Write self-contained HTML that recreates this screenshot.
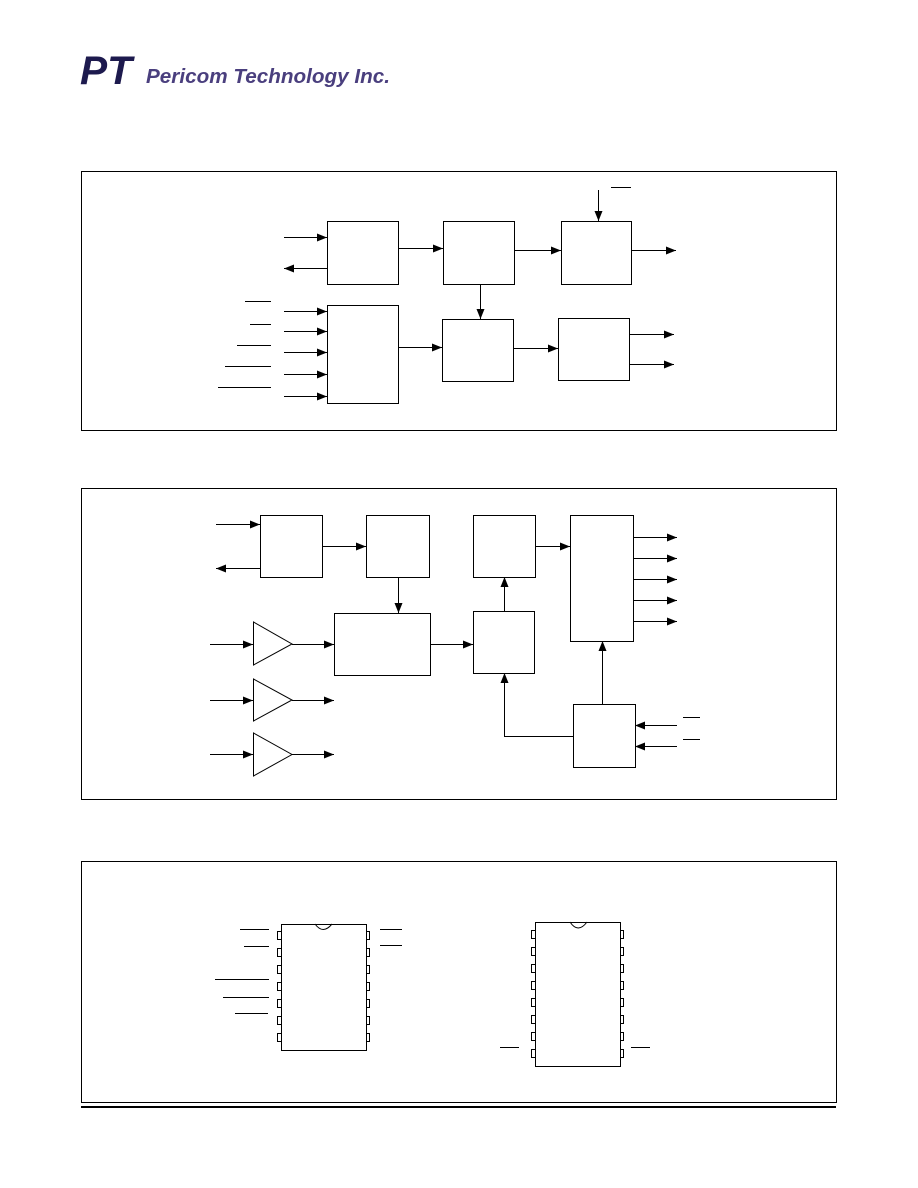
<!DOCTYPE html>
<html><head><style>
body{margin:0;background:#fff;}
svg{display:block}
</style></head><body>
<svg width="918" height="1188" viewBox="0 0 918 1188" xmlns="http://www.w3.org/2000/svg">
<defs><marker id="a" markerWidth="10" markerHeight="8" refX="10" refY="4" orient="auto" markerUnits="userSpaceOnUse"><path d="M0,0 L10,4 L0,8 z" fill="#000"/></marker></defs>
<text x="80" y="84" font-family="Liberation Sans,sans-serif" font-weight="bold" font-style="italic" font-size="40" fill="#1d1a4e" textLength="52" lengthAdjust="spacingAndGlyphs">PT</text>
<text x="146" y="83" font-family="Liberation Sans,sans-serif" font-weight="bold" font-style="italic" font-size="20" fill="#4a3f7e" textLength="244" lengthAdjust="spacingAndGlyphs">Pericom Technology Inc.</text>
<g fill="none" stroke="#000" stroke-width="1">
<rect x="81.5" y="171.5" width="755" height="259"/>
<rect x="81.5" y="488.5" width="755" height="311"/>
<rect x="81.5" y="861.5" width="755" height="241"/>
<line x1="81" y1="1107" x2="836" y2="1107" stroke-width="2"/>
<rect x="327.5" y="221.5" width="71" height="63"/>
<rect x="443.5" y="221.5" width="71" height="63"/>
<rect x="561.5" y="221.5" width="70" height="63"/>
<rect x="327.5" y="305.5" width="71" height="98"/>
<rect x="442.5" y="319.5" width="71" height="62"/>
<rect x="558.5" y="318.5" width="71" height="62"/>
<g marker-end="url(#a)">
<line x1="284" y1="237.5" x2="327" y2="237.5"/>
<line x1="327" y1="268.5" x2="284" y2="268.5"/>
<line x1="398" y1="248.5" x2="443" y2="248.5"/>
<line x1="514" y1="250.5" x2="561" y2="250.5"/>
<line x1="631" y1="250.5" x2="676" y2="250.5"/>
<line x1="598.5" y1="190" x2="598.5" y2="221"/>
<line x1="480.5" y1="284" x2="480.5" y2="319"/>
<line x1="284" y1="311.5" x2="327" y2="311.5"/>
<line x1="284" y1="331.5" x2="327" y2="331.5"/>
<line x1="284" y1="352.5" x2="327" y2="352.5"/>
<line x1="284" y1="374.5" x2="327" y2="374.5"/>
<line x1="284" y1="396.5" x2="327" y2="396.5"/>
<line x1="398" y1="347.5" x2="442" y2="347.5"/>
<line x1="513" y1="348.5" x2="558" y2="348.5"/>
<line x1="629" y1="334.5" x2="674" y2="334.5"/>
<line x1="629" y1="364.5" x2="674" y2="364.5"/>
</g>
<line x1="611" y1="187.5" x2="631" y2="187.5"/>
<line x1="245" y1="301.5" x2="271" y2="301.5"/>
<line x1="250" y1="324.5" x2="271" y2="324.5"/>
<line x1="237" y1="345.5" x2="271" y2="345.5"/>
<line x1="225" y1="366.5" x2="271" y2="366.5"/>
<line x1="218" y1="387.5" x2="271" y2="387.5"/>
<rect x="260.5" y="515.5" width="62" height="62"/>
<rect x="366.5" y="515.5" width="63" height="62"/>
<rect x="473.5" y="515.5" width="62" height="62"/>
<rect x="570.5" y="515.5" width="63" height="126"/>
<rect x="334.5" y="613.5" width="96" height="62"/>
<rect x="473.5" y="611.5" width="61" height="62"/>
<rect x="573.5" y="704.5" width="62" height="63"/>
<path d="M253.5,622 L253.5,665 L292,644 z"/>
<path d="M253.5,679 L253.5,721 L292,700 z"/>
<path d="M253.5,733 L253.5,776 L292,754.5 z"/>
<g marker-end="url(#a)">
<line x1="216" y1="524.5" x2="260" y2="524.5"/>
<line x1="260" y1="568.5" x2="216" y2="568.5"/>
<line x1="322" y1="546.5" x2="366" y2="546.5"/>
<line x1="398.5" y1="577" x2="398.5" y2="613"/>
<line x1="535" y1="546.5" x2="570" y2="546.5"/>
<line x1="504.5" y1="611" x2="504.5" y2="577"/>
<line x1="633" y1="537.5" x2="677" y2="537.5"/>
<line x1="633" y1="558.5" x2="677" y2="558.5"/>
<line x1="633" y1="579.5" x2="677" y2="579.5"/>
<line x1="633" y1="600.5" x2="677" y2="600.5"/>
<line x1="633" y1="621.5" x2="677" y2="621.5"/>
<line x1="602.5" y1="704" x2="602.5" y2="641"/>
<line x1="677" y1="725.5" x2="635" y2="725.5"/>
<line x1="677" y1="746.5" x2="635" y2="746.5"/>
<path d="M573,736.5 L504.5,736.5 L504.5,673"/>
<line x1="210" y1="644.5" x2="253" y2="644.5"/>
<line x1="210" y1="700.5" x2="253" y2="700.5"/>
<line x1="210" y1="754.5" x2="253" y2="754.5"/>
<line x1="292" y1="644.5" x2="334" y2="644.5"/>
<line x1="292" y1="700.5" x2="334" y2="700.5"/>
<line x1="292" y1="754.5" x2="334" y2="754.5"/>
<line x1="430" y1="644.5" x2="473" y2="644.5"/>
</g>
<line x1="683" y1="717.5" x2="700" y2="717.5"/>
<line x1="683" y1="739.5" x2="700" y2="739.5"/>
<rect x="281.5" y="924.5" width="85" height="126"/>
<path d="M315,924 Q323,935 332,924" />
<rect x="535.5" y="922.5" width="85" height="144"/>
<path d="M570,922 Q578,934 587,922" />
<g>
<path d="M281,931.5 h-3.5 v8 h3.5"/><path d="M366,931.5 h3.5 v8 h-3.5"/>
<path d="M281,948.5 h-3.5 v8 h3.5"/><path d="M366,948.5 h3.5 v8 h-3.5"/>
<path d="M281,965.5 h-3.5 v8 h3.5"/><path d="M366,965.5 h3.5 v8 h-3.5"/>
<path d="M281,982.5 h-3.5 v8 h3.5"/><path d="M366,982.5 h3.5 v8 h-3.5"/>
<path d="M281,999.5 h-3.5 v8 h3.5"/><path d="M366,999.5 h3.5 v8 h-3.5"/>
<path d="M281,1016.5 h-3.5 v8 h3.5"/><path d="M366,1016.5 h3.5 v8 h-3.5"/>
<path d="M281,1033.5 h-3.5 v8 h3.5"/><path d="M366,1033.5 h3.5 v8 h-3.5"/>
</g>
<g>
<path d="M535,930.5 h-3.5 v8 h3.5"/><path d="M620,930.5 h3.5 v8 h-3.5"/>
<path d="M535,947.5 h-3.5 v8 h3.5"/><path d="M620,947.5 h3.5 v8 h-3.5"/>
<path d="M535,964.5 h-3.5 v8 h3.5"/><path d="M620,964.5 h3.5 v8 h-3.5"/>
<path d="M535,981.5 h-3.5 v8 h3.5"/><path d="M620,981.5 h3.5 v8 h-3.5"/>
<path d="M535,998.5 h-3.5 v8 h3.5"/><path d="M620,998.5 h3.5 v8 h-3.5"/>
<path d="M535,1015.5 h-3.5 v8 h3.5"/><path d="M620,1015.5 h3.5 v8 h-3.5"/>
<path d="M535,1032.5 h-3.5 v8 h3.5"/><path d="M620,1032.5 h3.5 v8 h-3.5"/>
<path d="M535,1049.5 h-3.5 v8 h3.5"/><path d="M620,1049.5 h3.5 v8 h-3.5"/>
</g>
<line x1="240" y1="929.5" x2="269" y2="929.5"/>
<line x1="244" y1="946.5" x2="269" y2="946.5"/>
<line x1="215" y1="979.5" x2="269" y2="979.5"/>
<line x1="223" y1="997.5" x2="269" y2="997.5"/>
<line x1="235" y1="1013.5" x2="268" y2="1013.5"/>
<line x1="380" y1="929.5" x2="402" y2="929.5"/>
<line x1="380" y1="945.5" x2="402" y2="945.5"/>
<line x1="500" y1="1047.5" x2="519" y2="1047.5"/>
<line x1="631" y1="1047.5" x2="650" y2="1047.5"/>
</g>
</svg>
</body></html>
